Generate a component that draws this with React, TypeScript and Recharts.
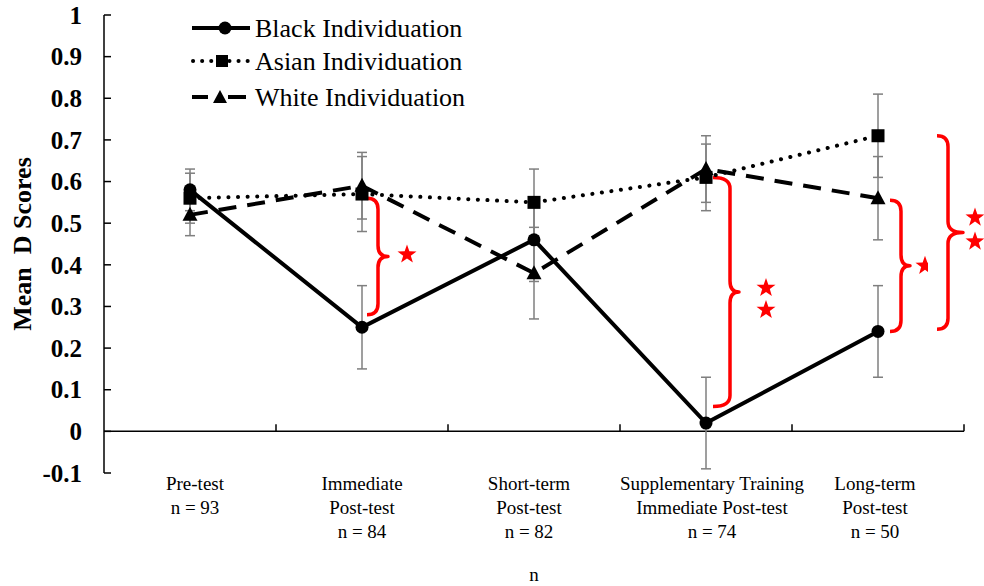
import React from 'react';
import {
  LineChart,
  Line,
  XAxis,
  YAxis,
  ErrorBar,
  ReferenceLine,
  ReferenceDot,
  ReferenceArea,
  Legend,
} from 'recharts';

const FONT = '"Liberation Serif", "Times New Roman", serif';

// categories sit at the middle of each band on a 0..5 axis
const categoryX = [0.5, 1.5, 2.5, 3.5, 4.5];
const categoryLines = [
  ['Pre-test', 'n = 93'],
  ['Immediate', 'Post-test', 'n = 84'],
  ['Short-term', 'Post-test', 'n = 82'],
  ['Supplementary Training', 'Immediate Post-test', 'n = 74'],
  ['Long-term', 'Post-test', 'n = 50'],
];
const categoryDx = [5, 0, -5, 6, -3];
const bandEdges = [1, 2, 3, 4, 5];
const yTicks = [-0.1, 0, 0.1, 0.2, 0.3, 0.4, 0.5, 0.6, 0.7, 0.8, 0.9, 1];

const black = [0.58, 0.25, 0.46, 0.02, 0.24];
const blackErr = [0.05, 0.1, 0.1, 0.11, 0.11];
const asian = [0.56, 0.57, 0.55, 0.61, 0.71];
const asianErr = [0.06, 0.09, 0.08, 0.08, 0.1];
const white = [0.52, 0.59, 0.38, 0.63, 0.56];
const whiteErr = [0.05, 0.08, 0.11, 0.08, 0.1];

// significance braces: where they sit in data terms
const braceX = [1.5, 3.5, 4.5, 4.5];
const braceTop = [0.56, 0.61, 0.555, 0.71];
const braceBottom = [0.28, 0.06, 0.24, 0.245];
// pixel offsets for drawing each brace
const braceLayout = [
  { end: 5, spine: 16, tip: 26, starX: 45, starDy: [-2] },
  { end: 7, spine: 24, tip: 33, starX: 60, starDy: [-4, 18] },
  { end: 12, spine: 23, tip: 32, starX: 47, starDy: [0], clip: 50 },
  { end: 59, spine: 70, tip: 85, starX: 97, starDy: [-15, 9] },
];

const data = categoryX.map((x, i) => ({
  x,
  black: black[i],
  blackErr: blackErr[i],
  asian: asian[i],
  asianErr: asianErr[i],
  white: white[i],
  whiteErr: whiteErr[i],
}));

const starPoints = (cx: number, cy: number, R: number) => {
  const pts: string[] = [];
  for (let k = 0; k < 10; k++) {
    const a = ((-90 + k * 36) * Math.PI) / 180;
    const rad = k % 2 === 0 ? R : R * 0.4;
    pts.push(`${cx + rad * Math.cos(a)},${cy + rad * Math.sin(a)}`);
  }
  return pts.join(' ');
};

const makeBrace = (i: number) => (props: any) => {
  const { x, y, height } = props;
  const L = braceLayout[i];
  const top = y;
  const bottom = y + height;
  const mid = (top + bottom) / 2;
  const e = x + L.end;
  const s = x + L.spine;
  const t = x + L.tip;
  const r = Math.min(11, height / 4);
  const d = `M${e},${top} Q${s},${top} ${s},${top + r} L${s},${mid - r} Q${s},${mid} ${t},${mid} Q${s},${mid} ${s},${mid + r} L${s},${bottom - r} Q${s},${bottom} ${e},${bottom}`;
  const clipId = `brace-clip-${i}`;
  return (
    <g>
      {L.clip !== undefined && (
        <defs>
          <clipPath id={clipId}>
            <rect x={x} y={0} width={L.clip} height={600} />
          </clipPath>
        </defs>
      )}
      <path d={d} fill="none" stroke="#ff0000" strokeWidth={3.5} strokeLinejoin="round" />
      <g clipPath={L.clip !== undefined ? `url(#${clipId})` : undefined}>
        {L.starDy.map((dy, k) => (
          <polygon key={k} points={starPoints(x + L.starX, mid + dy, 10)} fill="#ff0000" />
        ))}
      </g>
    </g>
  );
};

const edgeTick = (props: any) => (
  <line x1={props.cx} y1={props.cy} x2={props.cx} y2={props.cy - 7} stroke="#000" strokeWidth={1.5} />
);

const fmt = (v: number) => String(Number(v.toFixed(1)));

const YTick = (props: any) => {
  const { x, y, payload } = props;
  return (
    <g>
      <text x={x} y={y} dy="0.35em" textAnchor="end" fontFamily={FONT} fontWeight="bold" fontSize={25} fill="#000">
        {fmt(payload.value)}
      </text>
      <line x1={x + 22} x2={x + 29} y1={y} y2={y} stroke="#000" strokeWidth={1.5} />
    </g>
  );
};

const XTick = (props: any) => {
  const { x, y, payload } = props;
  const idx = categoryX.indexOf(payload.value);
  if (idx < 0) return null;
  return (
    <text textAnchor="middle" fontFamily={FONT} fontSize={19} fill="#000">
      {categoryLines[idx].map((line, k) => (
        <tspan key={k} x={x + categoryDx[idx]} y={y + 17 + k * 24}>
          {line}
        </tspan>
      ))}
    </text>
  );
};

const circleDot = (props: any) => (
  <circle key={`b-${props.index}`} cx={props.cx} cy={props.cy} r={6.5} fill="#000" />
);
const squareDot = (props: any) => (
  <rect key={`a-${props.index}`} x={props.cx - 6.5} y={props.cy - 6.5} width={13} height={13} fill="#000" />
);
const triangleDot = (props: any) => (
  <polygon
    key={`w-${props.index}`}
    points={`${props.cx},${props.cy - 8} ${props.cx + 7.5},${props.cy + 6} ${props.cx - 7.5},${props.cy + 6}`}
    fill="#000"
  />
);

const LegendContent = () => (
  <svg width={300} height={110} style={{ display: 'block' }}>
    <g>
      <line x1={2} x2={60} y1={18} y2={18} stroke="#000" strokeWidth={4} />
      <circle cx={35} cy={18} r={6.5} fill="#000" />
      <text x={65} y={18} dy="0.35em" fontFamily={FONT} fontSize={26} fill="#000">
        Black Individuation
      </text>
    </g>
    <g>
      <line x1={3} x2={60} y1={51} y2={51} stroke="#000" strokeWidth={4} strokeDasharray="0.1 9" strokeLinecap="round" />
      <rect x={26} y={45} width={12} height={12} fill="#000" />
      <text x={65} y={51} dy="0.35em" fontFamily={FONT} fontSize={26} fill="#000">
        Asian Individuation
      </text>
    </g>
    <g>
      <line x1={2} x2={18} y1={87} y2={87} stroke="#000" strokeWidth={4} />
      <line x1={38} x2={56} y1={87} y2={87} stroke="#000" strokeWidth={4} />
      <polygon points="30,80 37,93 23,93" fill="#000" />
      <text x={65} y={87} dy="0.35em" fontFamily={FONT} fontSize={26} fill="#000">
        White Individuation
      </text>
    </g>
  </svg>
);

const yLabel = (props: any) => {
  const vb = props.viewBox;
  const cx = vb.x + 22;
  const cy = vb.y + vb.height / 2;
  return (
    <text
      x={cx}
      y={cy}
      dy="0.35em"
      transform={`rotate(-90, ${cx}, ${cy})`}
      textAnchor="middle"
      fontFamily={FONT}
      fontWeight="bold"
      fontSize={26}
      fill="#000"
    >
      {'Mean\u00a0\u00a0D Scores'}
    </text>
  );
};

const xLabel = (props: any) => {
  const vb = props.viewBox;
  return (
    <text x={vb.x + vb.width / 2} y={vb.y + 108} textAnchor="middle" fontFamily={FONT} fontSize={19} fill="#000">
      n
    </text>
  );
};

export default function App() {
  return (
    <div style={{ position: 'absolute', left: 0, top: 0, width: 984, height: 586, background: '#fff' }}>
      <LineChart width={984} height={586} data={data} margin={{ top: 15, right: 20, bottom: 0, left: 0 }}>
        <XAxis
          dataKey="x"
          type="number"
          domain={[0, 5]}
          ticks={categoryX}
          interval={0}
          axisLine={false}
          tickLine={false}
          tickSize={0}
          tickMargin={0}
          height={113}
          tick={XTick}
          label={xLabel}
        />
        <YAxis
          type="number"
          domain={[-0.1, 1]}
          ticks={yTicks}
          interval={0}
          width={104}
          axisLine={{ stroke: '#000', strokeWidth: 1.5 }}
          tickLine={false}
          tickSize={0}
          tickMargin={22}
          tick={YTick}
          label={yLabel}
        />
        <ReferenceLine y={0} stroke="#000" strokeWidth={1.5} />
        {bandEdges.map((b) => (
          <ReferenceDot key={b} x={b} y={0} shape={edgeTick} />
        ))}

        {/* error bars first so the lines sit on top of them */}
        <Line dataKey="asian" stroke="none" dot={false} activeDot={false} legendType="none" isAnimationActive={false}>
          <ErrorBar dataKey="asianErr" width={5} stroke="#7f7f7f" strokeWidth={1.5} isAnimationActive={false} />
        </Line>
        <Line dataKey="white" stroke="none" dot={false} activeDot={false} legendType="none" isAnimationActive={false}>
          <ErrorBar dataKey="whiteErr" width={5} stroke="#7f7f7f" strokeWidth={1.5} isAnimationActive={false} />
        </Line>
        <Line dataKey="black" stroke="none" dot={false} activeDot={false} legendType="none" isAnimationActive={false}>
          <ErrorBar dataKey="blackErr" width={5} stroke="#7f7f7f" strokeWidth={1.5} isAnimationActive={false} />
        </Line>

        <Line
          dataKey="asian"
          name="Asian Individuation"
          stroke="#000"
          strokeWidth={4}
          strokeDasharray="0.1 9.5"
          strokeLinecap="round"
          dot={squareDot}
          activeDot={false}
          isAnimationActive={false}
        />
        <Line
          dataKey="white"
          name="White Individuation"
          stroke="#000"
          strokeWidth={4}
          strokeDasharray="18 11"
          dot={triangleDot}
          activeDot={false}
          isAnimationActive={false}
        />
        <Line
          dataKey="black"
          name="Black Individuation"
          stroke="#000"
          strokeWidth={4}
          dot={circleDot}
          activeDot={false}
          isAnimationActive={false}
        />

        {braceX.map((bx, i) => (
          <ReferenceArea
            key={`brace-${i}`}
            x1={bx}
            x2={bx}
            y1={braceBottom[i]}
            y2={braceTop[i]}
            shape={makeBrace(i)}
          />
        ))}

        <Legend
          layout="vertical"
          align="center"
          verticalAlign="middle"
          wrapperStyle={{ left: 190, top: 10, width: 300, height: 110 }}
          content={LegendContent}
        />
      </LineChart>
    </div>
  );
}
